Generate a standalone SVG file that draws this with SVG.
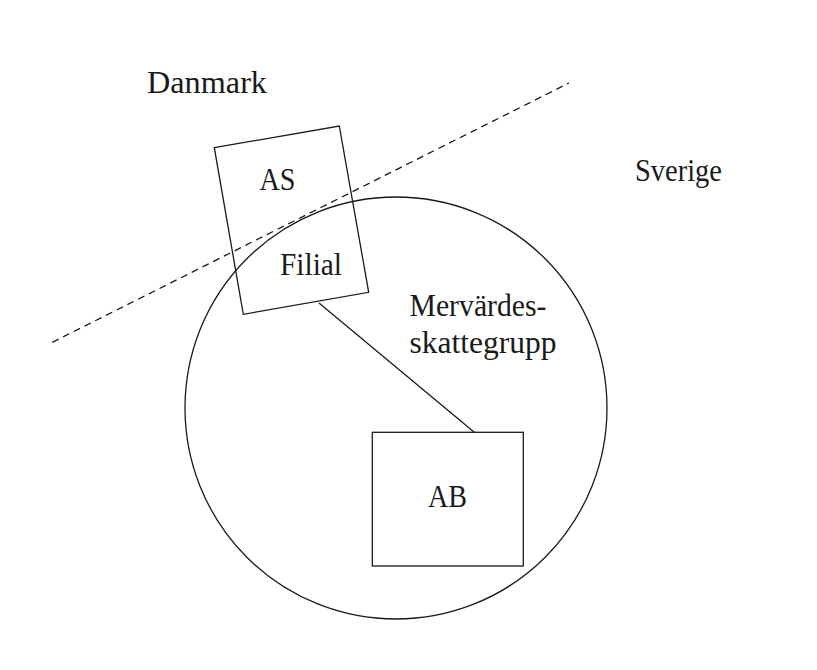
<svg xmlns="http://www.w3.org/2000/svg" width="817" height="670" viewBox="0 0 817 670">
<style>
.s{fill:none;stroke:#1a1a1a;stroke-width:1.3}
.t{font-family:"Liberation Serif","Times New Roman",serif;font-size:31px;fill:#1a1a1a}
</style>
<rect width="817" height="670" fill="#fff"/>
<g id="border">
<line class="s" x1="52.3" y1="342.3" x2="569" y2="83" stroke-dasharray="7,5"/>
</g>
<g id="labels">
<text class="t" x="147" y="93" textLength="120" lengthAdjust="spacingAndGlyphs">Danmark</text>
<text class="t" x="635" y="181" textLength="87" lengthAdjust="spacingAndGlyphs">Sverige</text>
</g>
<g id="group">
<circle class="s" cx="396" cy="408" r="211"/>
<text class="t" x="409.5" y="316" textLength="137" lengthAdjust="spacingAndGlyphs">Mervärdes-</text>
<text class="t" x="409.5" y="353" textLength="147" lengthAdjust="spacingAndGlyphs">skattegrupp</text>
</g>
<g id="AS">
<polygon class="s" points="214.3,147.7 339.3,126 368.7,292.3 243.3,314.3"/>
<text class="t" x="259.5" y="189.5" textLength="36" lengthAdjust="spacingAndGlyphs">AS</text>
<text class="t" x="280" y="274.5" textLength="62" lengthAdjust="spacingAndGlyphs">Filial</text>
</g>
<g id="AB">
<rect class="s" x="372.3" y="432.3" width="151" height="133.7"/>
<text class="t" x="428" y="506.5" textLength="39" lengthAdjust="spacingAndGlyphs">AB</text>
</g>
<g id="connectors">
<line class="s" x1="319" y1="303" x2="474.3" y2="432.3"/>
</g>
</svg>
